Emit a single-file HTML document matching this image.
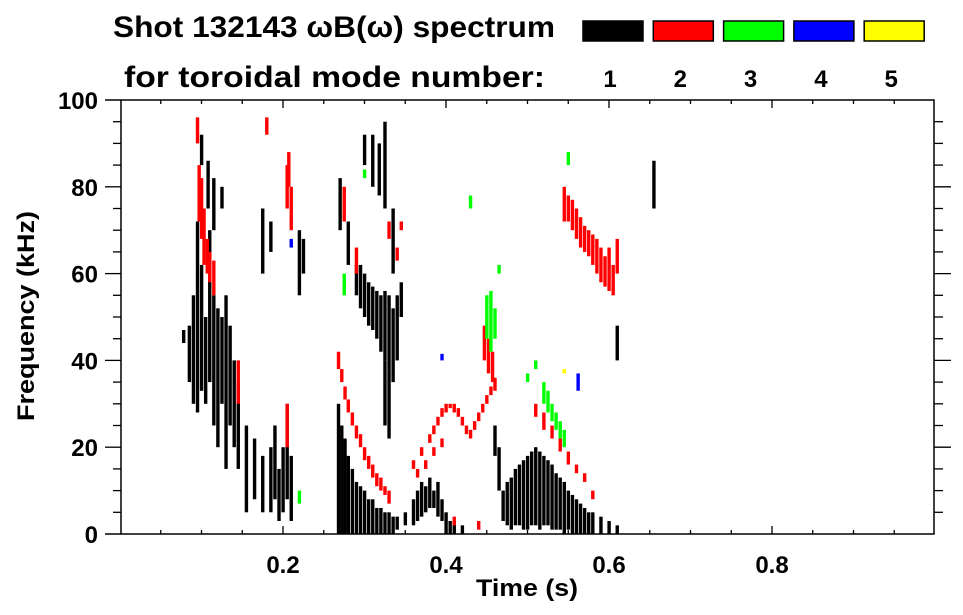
<!DOCTYPE html>
<html><head><meta charset="utf-8"><style>
html,body{margin:0;padding:0;background:#fff;}
svg{display:block;font-family:"Liberation Sans",sans-serif;font-weight:bold;}
</style></head><body>
<svg id="chart" width="963" height="615" viewBox="0 0 963 615">
<g id="marks"></g>
<g id="axes"></g>
<text x="113" y="37" font-size="30" textLength="442" lengthAdjust="spacingAndGlyphs">Shot 132143 ωB(ω) spectrum</text>
<text x="124" y="87" font-size="30" textLength="421" lengthAdjust="spacingAndGlyphs">for toroidal mode number:</text>
<g id="legend"></g>
<text x="527" y="596" font-size="24" text-anchor="middle" textLength="102" lengthAdjust="spacingAndGlyphs">Time (s)</text>
<text transform="translate(34,316) rotate(-90)" font-size="24" text-anchor="middle" textLength="210" lengthAdjust="spacingAndGlyphs">Frequency (kHz)</text>
</svg>
<script>
const xTicks=[0.2,0.4,0.6,0.8];
const yTicks=[0,20,40,60,80,100];
const modeLabels=['1','2','3','4','5'];
const modeColors=['#000000','#ff0000','#00ff00','#0000ff','#ffff00'];
// mode 1 (black) streaks: time, low freq, high freq
const m1T=[.078,.085,.09,.095,.10,.105,.11,.115,.12,.125,.13,.135,.14,.145,.155,.165,.175,.185,.19,.195,.2,.205,.21,.22,.225,.115,.125,.175,.185,.10,.108,
.268,.272,.276,.28,.285,.29,.295,.30,.305,.31,.315,.32,.325,.33,.335,.34,.35,.36,.365,.37,.375,.38,.385,.39,.395,.40,.405,.41,.42,
.27,.28,.29,.295,.30,.305,.31,.315,.32,.325,.33,.335,.34,.345,.325,.33,.325,.31,.30,.335,.318,
.47,.475,.48,.485,.49,.495,.50,.505,.51,.515,.52,.525,.53,.535,.54,.545,.55,.555,.56,.565,.57,.575,.58,.59,.60,.61,.655,.61,.465,.46];
const m1Lo=[44,35,30,28,33,30,35,25,20,30,15,25,20,15,5,8,5,5,8,3,5,8,3,55,60,70,75,60,65,85,75,
0,0,0,0,0,0,0,0,0,0,0,0,0,0,0,1,2,2,3,4,5,6,6,4,3,0,0,0,0,
70,62,55,52,50,48,47,45,42,40,38,35,40,50,25,22,75,80,85,60,78,
3,2,1,2,2,1,1,2,2,1,2,2,1,1,1,0,1,0,0,0,0,0,0,0,0,0,75,40,10,18];
const m1Hi=[47,48,55,72,62,50,70,55,52,50,55,48,40,35,25,22,18,20,25,15,20,30,18,70,68,82,80,75,72,92,86,
30,25,22,18,15,12,11,10,8,8,6,6,5,5,4,4,5,8,10,12,11,13,10,12,8,5,3,3,2,
82,72,62,62,60,58,57,56,55,56,55,52,55,58,40,38,95,92,92,75,90,
10,12,13,15,16,17,18,19,20,19,18,17,16,14,13,12,10,9,8,7,6,5,5,4,3,2,86,48,20,25];
// mode 2 (red)
const m2T=[.097,.1,.103,.107,.11,.115,.095,.18,.205,.21,.207,.145,
.268,.272,.276,.28,.285,.29,.295,.30,.305,.31,.315,.32,.325,.33,.29,.33,.34,.345,.275,
.36,.37,.38,.385,.39,.395,.40,.405,.41,.415,.42,.425,.43,.435,.44,.445,.45,.455,.46,.447,.452,.457,
.365,.375,.385,.395,.51,.52,.53,.54,.55,.56,.57,.58,
.545,.55,.555,.56,.565,.57,.575,.58,.585,.59,.595,.60,.605,.61,.205,.41,.44];
const m2Lo=[72,68,62,60,58,55,90,92,75,70,80,30,
38,35,31,28,25,22,20,17,15,13,11,10,9,7,60,68,63,70,72,
15,18,21,23,25,27,28,29,28,27,25,23,22,24,26,28,30,32,33,40,37,35,
13,15,18,20,27,24,22,19,16,14,12,8,
72,72,70,68,66,65,64,62,60,58,57,56,55,60,20,2,1];
const m2Hi=[85,82,75,68,65,63,96,96,85,80,88,40,
42,38,34,31,28,25,23,20,18,16,14,13,11,10,66,72,66,72,80,
17,20,23,25,27,29,30,30,30,29,27,25,24,26,28,30,32,34,36,48,45,42,
15,17,20,22,30,28,25,22,19,16,14,10,
80,78,77,75,73,71,70,69,68,66,64,66,62,68,30,4,3];
// mode 3 (green)
const m3T=[.45,.455,.46,.52,.525,.53,.535,.54,.545,.51,.50,.43,.55,.465,.22,.30,.275];
const m3Lo=[45,42,45,30,28,26,24,22,20,38,35,75,85,60,7,82,55];
const m3Hi=[55,56,52,35,33,30,28,26,24,40,37,78,88,62,10,84,60];
// mode 4 (blue)
const m4T=[.562,.21,.395];
const m4Lo=[33,66,40];
const m4Hi=[37,68,41.5];
// mode 5 (yellow)
const m5T=[.545];
const m5Lo=[37];
const m5Hi=[38];

const X0=121,X1=934,Y0=534,Y1=100;
const xs=t=>120+t*815;
const ys=f=>534-f*(Y0-Y1)/100;
const NS='http://www.w3.org/2000/svg';
const marks=document.getElementById('marks');
const axes=document.getElementById('axes');
const legend=document.getElementById('legend');
function mk(tag,attrs,parent){const e=document.createElementNS(NS,tag);for(const k in attrs)e.setAttribute(k,attrs[k]);parent.appendChild(e);return e;}
const series=[[m1T,m1Lo,m1Hi],[m2T,m2Lo,m2Hi],[m3T,m3Lo,m3Hi],[m4T,m4Lo,m4Hi],[m5T,m5Lo,m5Hi]];
series.forEach((s,mi)=>{
  const [T,L,H]=s;
  for(let i=0;i<T.length;i++){
    const x=xs(T[i]),y=ys(H[i]),h=Math.max(2,ys(L[i])-ys(H[i]));
    const r=mk('rect',{x:x-1.6,y:y,width:3.4,height:h,fill:modeColors[mi]},marks);
    
    
  }
});
const fr=mk('rect',{x:X0,y:Y1,width:X1-X0,height:Y0-Y1,fill:'none',stroke:'#000','stroke-width':1.5},axes);


mk('line',{x1:105,y1:Y1,x2:X0,y2:Y1,stroke:'#000','stroke-width':1.5},axes);
mk('line',{x1:105,y1:Y0,x2:X0,y2:Y0,stroke:'#000','stroke-width':1.5},axes);
for(let k=1;k<20;k++){
  const t=k*0.05,x=xs(t),len=(k%4===0)?8:4;
  mk('line',{x1:x,y1:Y0,x2:x,y2:Y0-len,stroke:'#000','stroke-width':1.3},axes);
  mk('line',{x1:x,y1:Y1,x2:x,y2:Y1+len,stroke:'#000','stroke-width':1.3},axes);
}
for(let k=1;k<20;k++){
  const f=k*5,y=ys(f),maj=(k%4===0);
  mk('line',{x1:X0,y1:y,x2:X0-(maj?16:8),y2:y,stroke:'#000','stroke-width':1.3},axes);
  mk('line',{x1:X1,y1:y,x2:X1+(maj?17:9),y2:y,stroke:'#000','stroke-width':1.3},axes);
}
xTicks.forEach(v=>{
  const t=mk('text',{x:xs(v),y:573,'font-size':24,'text-anchor':'middle'},axes);
  t.textContent=String(v);
  
  
});
yTicks.forEach(v=>{
  const t=mk('text',{x:98,y:ys(v)+9,'font-size':24,'text-anchor':'end'},axes);
  t.textContent=String(v);
  
  
});
modeLabels.forEach((lab,i)=>{
  const x=583+i*70.3;
  const r=mk('rect',{x:x,y:21,width:60,height:20,fill:modeColors[i],stroke:'#000','stroke-width':1.5},legend);
  
  
  const t=mk('text',{x:x+27,y:87,'font-size':24,'text-anchor':'middle'},legend);
  t.textContent=lab;
  
  
});
</script>
</body></html>
